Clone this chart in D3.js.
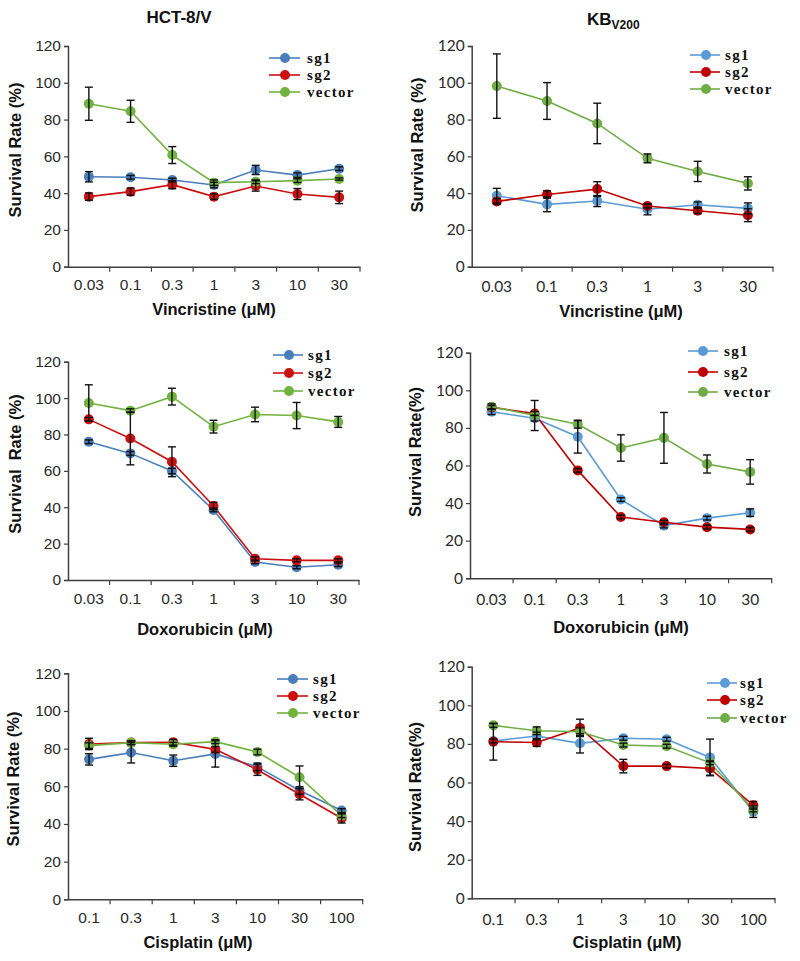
<!DOCTYPE html>
<html><head><meta charset="utf-8">
<script src="https://cdn.jsdelivr.net/npm/d3@7"></script>
<style>body{margin:0;background:#fff}svg{display:block}</style>
</head><body>
<script>
// ---- categories (doses) ----
const doseVinHCT = ["0.03","0.1","0.3","1","3","10","30"];
const doseVinKB  = ["0.03","0.1","0.3","1","3","30"];
const doseDox    = ["0.03","0.1","0.3","1","3","10","30"];
const doseCis    = ["0.1","0.3","1","3","10","30","100"];
const yTicks = [0,20,40,60,80,100,120];
const seriesNames = ["sg1","sg2","vector"];

// ---- HCT-8/V, Vincristine ----
const hctVinSg1 = [48.9, 48.6, 47.1, 44.4, 52.6, 49.8, 53.3];
const hctVinSg1Err = [2.8, 1, 1, 1.5, 2.5, 1.2, 1];
const hctVinSg2 = [38.1, 40.8, 44.6, 38.1, 43.9, 39.5, 37.7];
const hctVinSg2Err = [2, 2, 2.2, 1.5, 2.8, 3, 3.4];
const hctVinVec = [88.6, 84.5, 60.7, 45.7, 46.2, 46.8, 47.7];
const hctVinVecErr = [9, 6, 4.6, 1.5, 1, 1, 0.6];

// ---- KBv200, Vincristine ----
const kbVinSg1 = [38.6, 33.9, 35.7, 31.2, 33.7, 31.7];
const kbVinSg1Err = [4, 4, 3, 3, 1.5, 3];
const kbVinSg2 = [35.5, 39.3, 42.2, 33.0, 30.4, 28.0];
const kbVinSg2Err = [1.5, 2, 4, 1, 1.5, 3.5];
const kbVinVec = [98.2, 90.1, 77.9, 58.9, 51.8, 45.3];
const kbVinVecErr = [17.5, 10, 11, 2.4, 5.5, 3.6];

// ---- HCT-8/V, Doxorubicin ----
const hctDoxSg1 = [76.0, 69.6, 59.9, 38.5, 9.9, 7.0, 8.4];
const hctDoxSg1Err = [1, 1, 1.5, 1, 1, 0.8, 1];
const hctDoxSg2 = [88.3, 77.8, 65.0, 40.7, 11.7, 10.8, 10.8];
const hctDoxSg2Err = [1, 14.5, 8.2, 2, 1, 0.8, 0.8];
const hctDoxVec = [97.3, 93.1, 100.8, 84.3, 91.0, 90.4, 86.9];
const hctDoxVecErr = [10, 1, 4.6, 3.5, 4, 7.2, 3];

// ---- KBv200, Doxorubicin ----
const kbDoxSg1 = [88.6, 85.1, 75.3, 41.9, 28.0, 32.0, 34.9];
const kbDoxSg1Err = [1.5, 1.5, 8.7, 1, 1.2, 1, 2];
const kbDoxSg2 = [90.9, 87.7, 57.4, 32.6, 29.8, 27.2, 26.0];
const kbDoxSg2Err = [1, 1, 1, 1, 1, 1, 1];
const kbDoxVec = [91.3, 86.6, 81.9, 69.3, 74.7, 60.8, 56.6];
const kbDoxVecErr = [1.5, 8, 2, 7, 13.5, 4.8, 6.5];

// ---- HCT-8/V, Cisplatin ----
const hctCisSg1 = [74.3, 77.9, 73.6, 77.2, 70.3, 57.8, 47.1];
const hctCisSg1Err = [3, 5.5, 3, 7, 2, 2, 1];
const hctCisSg2 = [82.5, 83.2, 83.4, 79.6, 68.8, 55.8, 43.0];
const hctCisSg2Err = [3, 1, 1.5, 1.5, 3, 3, 2.5];
const hctCisVec = [81.6, 83.2, 82.3, 83.7, 78.2, 64.8, 44.4];
const hctCisVecErr = [1.5, 1, 1, 1, 1.5, 6, 1];

// ---- KBv200, Cisplatin ----
const kbCisSg1 = [81.5, 84.1, 80.3, 82.9, 82.4, 73.0, 44.9];
const kbCisSg1Err = [1, 2, 5, 1, 1, 9.5, 3];
const kbCisSg2 = [81.1, 80.7, 88.3, 68.5, 68.5, 67.3, 48.2];
const kbCisSg2Err = [9.5, 2, 4.5, 3.5, 1, 3.5, 2];
const kbCisVec = [89.6, 86.8, 86.3, 79.4, 78.8, 70.2, 45.8];
const kbCisVecErr = [1, 2, 2, 1, 1, 1, 1];

const colorsLeft  = ["#4a7ebb", "#cc1010", "#72b33f"];
const colorsRight = ["#5b9bd5", "#c00000", "#70ad47"];

const W = 800, H = 961;
const svg = d3.select("body").append("svg").attr("width", W).attr("height", H);

const panels = [
  {side:"L", cats:doseVinHCT, x0:68, x1:360, yTop:46, yBot:266.7, vals:[hctVinSg1,hctVinSg2,hctVinVec], errs:[hctVinSg1Err,hctVinSg2Err,hctVinVecErr],
   xTitle:"Vincristine (\u03bcM)", xTitleX:214, xTitleY:315, xLabY:290, yTitle:"Survival Rate (%)", yTitleX:15, yTitleY:150,
   leg:{l0:269,l1:300,m:285,t:307,ys:[58,75,92]}},
  {side:"R", cats:doseVinKB, x0:471.7, x1:773, yTop:46, yBot:266.7, vals:[kbVinSg1,kbVinSg2,kbVinVec], errs:[kbVinSg1Err,kbVinSg2Err,kbVinVecErr],
   xTitle:"Vincristine (\u03bcM)", xTitleX:621, xTitleY:317, xLabY:292, yTitle:"Survival Rate (%)", yTitleX:417, yTitleY:145,
   leg:{l0:690,l1:720,m:706,t:725,ys:[55,72,89]}},
  {side:"L", cats:doseDox, x0:68, x1:359, yTop:361.7, yBot:580, vals:[hctDoxSg1,hctDoxSg2,hctDoxVec], errs:[hctDoxSg1Err,hctDoxSg2Err,hctDoxVecErr],
   xTitle:"Doxorubicin (\u03bcM)", xTitleX:205, xTitleY:635, xLabY:604, yTitle:"Survival  Rate (%)", yTitleX:15, yTitleY:464,
   leg:{l0:273,l1:303,m:289,t:308,ys:[355,373,391]}},
  {side:"R", cats:doseDox, x0:470, x1:771.7, yTop:352.7, yBot:578.3, vals:[kbDoxSg1,kbDoxSg2,kbDoxVec], errs:[kbDoxSg1Err,kbDoxSg2Err,kbDoxVecErr],
   xTitle:"Doxorubicin (\u03bcM)", xTitleX:621, xTitleY:633, xLabY:605, yTitle:"Survival Rate(%)", yTitleX:415, yTitleY:452,
   leg:{l0:688,l1:718,m:703,t:724,ys:[351,372,392]}},
  {side:"L", cats:doseCis, x0:68, x1:362.7, yTop:673.3, yBot:899.3, vals:[hctCisSg1,hctCisSg2,hctCisVec], errs:[hctCisSg1Err,hctCisSg2Err,hctCisVecErr],
   xTitle:"Cisplatin (\u03bcM)", xTitleX:198, xTitleY:948, xLabY:923, yTitle:"Survival Rate (%)", yTitleX:13, yTitleY:779,
   leg:{l0:277,l1:308,m:293,t:313,ys:[679,696,713]}},
  {side:"R", cats:doseCis, x0:471.7, x1:775, yTop:666.7, yBot:898.3, vals:[kbCisSg1,kbCisSg2,kbCisVec], errs:[kbCisSg1Err,kbCisSg2Err,kbCisVecErr],
   xTitle:"Cisplatin (\u03bcM)", xTitleX:627, xTitleY:948, xLabY:925, yTitle:"Survival Rate(%)", yTitleX:415, yTitleY:787,
   leg:{l0:707,l1:737,m:725,t:740,ys:[683,700,718]}}
];

const axisColor = "#404040";

panels.forEach(p => {
  const colors = p.side === "L" ? colorsLeft : colorsRight;
  const tickFont = p.side === "L" ? "'Liberation Sans', Arial, sans-serif" : "Lato, 'Open Sans', sans-serif";
  const tickSize = p.side === "L" ? 15.5 : 15.5;
  const x = d3.scaleBand().domain(p.cats).range([p.x0, p.x1]);
  const y = d3.scaleLinear().domain([0, 120]).range([p.yBot, p.yTop]);
  const g = svg.append("g");

  // y axis
  const ya = g.append("g").attr("transform", `translate(${p.x0},0)`)
    .call(d3.axisLeft(y).tickValues(yTicks).tickSize(4).tickPadding(3));
  ya.select(".domain").attr("stroke", axisColor).attr("stroke-width", 1.5);
  ya.selectAll(".tick line").attr("stroke", axisColor).attr("stroke-width", 1.2);
  ya.selectAll(".tick text").attr("font-family", tickFont).attr("font-size", tickSize).attr("fill", "#2a2a2a");

  // x axis line with ticks between categories
  const xa = g.append("g").attr("transform", `translate(0,${p.yBot})`)
    .call(d3.axisBottom(x).tickSize(0).tickFormat(""));
  xa.select(".domain").attr("stroke", axisColor).attr("stroke-width", 1.5);
  xa.selectAll(".tick").remove();
  const bounds = p.cats.map(c => x(c)).concat([p.x1]).slice(1);
  g.selectAll(null).data(bounds).enter().append("line")
    .attr("x1", d => d).attr("x2", d => d).attr("y1", p.yBot).attr("y2", p.yBot + 5)
    .attr("stroke", axisColor).attr("stroke-width", 1.2);
  g.selectAll(null).data(p.cats).enter().append("text")
    .attr("x", d => x(d) + x.bandwidth() / 2).attr("y", p.xLabY)
    .attr("text-anchor", "middle").attr("font-family", tickFont).attr("font-size", tickSize).attr("fill", "#2a2a2a")
    .text(d => d);

  // titles
  g.append("text").attr("x", p.xTitleX).attr("y", p.xTitleY).attr("text-anchor", "middle")
    .attr("font-family", "'Liberation Sans', Arial, sans-serif").attr("font-weight", "bold").attr("font-size", 16.5)
    .attr("fill", "#111").text(p.xTitle);
  g.append("text").attr("transform", `translate(${p.yTitleX + 6},${p.yTitleY}) rotate(-90)`).attr("text-anchor", "middle")
    .attr("font-family", "'Liberation Sans', Arial, sans-serif").attr("font-weight", "bold").attr("font-size", 16.5)
    .attr("fill", "#111").attr("xml:space", "preserve").style("white-space", "pre").text(p.yTitle);

  // lines and markers
  const cx = (i) => x(p.cats[i]) + x.bandwidth() / 2;
  const line = d3.line().x((d, i) => cx(i)).y(d => y(d));
  p.vals.forEach((vals, s) => {
    g.append("path").datum(vals).attr("d", line).attr("fill", "none")
      .attr("stroke", colors[s]).attr("stroke-width", 1.6);
  });
  p.vals.forEach((vals, s) => {
    g.selectAll(null).data(vals).enter().append("circle")
      .attr("cx", (d, i) => cx(i)).attr("cy", d => y(d)).attr("r", 5).attr("fill", colors[s]);
  });
  // error bars
  p.vals.forEach((vals, s) => {
    const errs = p.errs[s];
    vals.forEach((v, i) => {
      const e = errs[i];
      const xc = cx(i);
      g.append("line").attr("x1", xc).attr("x2", xc).attr("y1", y(v + e)).attr("y2", y(v - e))
        .attr("stroke", "#111").attr("stroke-width", 1.4);
      [v + e, v - e].forEach(t => {
        g.append("line").attr("x1", xc - 4).attr("x2", xc + 4).attr("y1", y(t)).attr("y2", y(t))
          .attr("stroke", "#111").attr("stroke-width", 1.4);
      });
    });
  });

  // legend
  seriesNames.forEach((name, s) => {
    const ly = p.leg.ys[s];
    g.append("line").attr("x1", p.leg.l0).attr("x2", p.leg.l1).attr("y1", ly).attr("y2", ly)
      .attr("stroke", colors[s]).attr("stroke-width", 1.6);
    g.append("circle").attr("cx", p.leg.m).attr("cy", ly).attr("r", 5).attr("fill", colors[s]);
    g.append("text").attr("x", p.leg.t).attr("y", ly + 5)
      .attr("font-family", "'Liberation Serif', 'Times New Roman', serif").attr("font-weight", "bold").attr("font-size", 15)
      .attr("letter-spacing", 1.3).attr("fill", "#111").text(name);
  });
});

// Panel headers
svg.append("text").attr("x", 179).attr("y", 23).attr("text-anchor", "middle")
  .attr("font-family", "'Liberation Sans', Arial, sans-serif").attr("font-weight", "bold").attr("font-size", 17)
  .attr("fill", "#111").text("HCT-8/V");
const kb = svg.append("text").attr("x", 587).attr("y", 25)
  .attr("font-family", "'Liberation Sans', Arial, sans-serif").attr("font-weight", "bold").attr("font-size", 17)
  .attr("fill", "#111");
kb.append("tspan").text("KB");
kb.append("tspan").attr("font-size", 12).attr("dy", 4).text("V200");
</script>
</body></html>
